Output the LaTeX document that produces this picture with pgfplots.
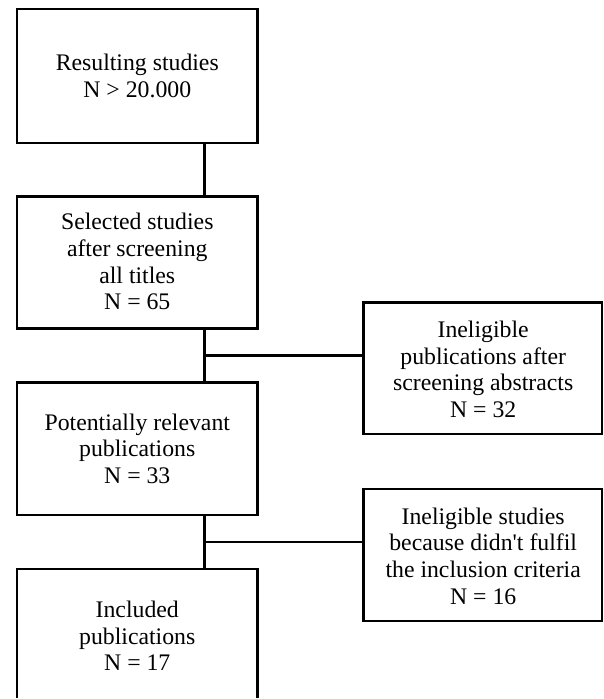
\documentclass[border=0pt]{standalone}
\usepackage{pgfplots}
\pgfplotsset{compat=1.18}
\usepackage{fontspec}
\setmainfont{Liberation Serif}
\begin{document}
\begin{tikzpicture}
\begin{axis}[
  scale only axis, width=302pt, height=349.5pt,
  xmin=0, xmax=604, ymin=0, ymax=699,
  axis lines=none, clip=false,
  every axis plot/.append style={line cap=rect, line join=miter},
]
\addplot[draw=none, fill=white] coordinates {(0,0)(604,0)(604,699)(0,699)} \closedcycle;
% boxes
\addplot[black, line width=1.2pt] coordinates {(17,556)(258,556)(258,690)(17,690)(17,556)};
\addplot[black, line width=1.2pt] coordinates {(17,370)(258,370)(258,502)(17,502)(17,370)};
\addplot[black, line width=1.2pt] coordinates {(17,183)(258,183)(258,316)(17,316)(17,183)};
\addplot[black, line width=1.2pt, line cap=butt] coordinates {(17,0)(17,129)(258,129)(258,0)};
\addplot[black, line width=1.2pt] coordinates {(364,264)(603,264)(603,396)(364,396)(364,264)};
\addplot[black, line width=1.2pt] coordinates {(364,77)(603,77)(603,209)(364,209)(364,77)};
% connectors
\addplot[black, line width=1.2pt, line cap=butt] coordinates {(205,556)(205,502)};
\addplot[black, line width=1.2pt, line cap=butt] coordinates {(205,370)(205,316)};
\addplot[black, line width=1.2pt, line cap=butt] coordinates {(205,183)(205,129)};
\addplot[black, line width=1.2pt, line cap=butt] coordinates {(205,343)(364,343)};
\addplot[black, line width=1.2pt, line cap=butt] coordinates {(205,156)(364,156)};
% texts
\tikzset{lbl/.style={align=center, font=\fontsize{11.9}{13.4}\selectfont, inner sep=0pt}}
\node[lbl] at (axis cs:137.5,623) {Resulting studies\\N > 20.000};
\node[lbl] at (axis cs:137.5,437) {Selected studies\\after screening\\all titles\\N = 65};
\node[lbl] at (axis cs:137.5,249.5) {Potentially relevant\\publications\\N = 33};
\node[lbl] at (axis cs:137.5,62) {Included\\publications\\N = 17};
\node[lbl] at (axis cs:484,329) {Ineligible\\publications after\\screening abstracts\\N = 32};
\node[lbl] at (axis cs:484,142) {Ineligible studies\\because didn\textquotesingle t fulfil\\the inclusion criteria\\N = 16};
\end{axis}
\end{tikzpicture}
\end{document}
